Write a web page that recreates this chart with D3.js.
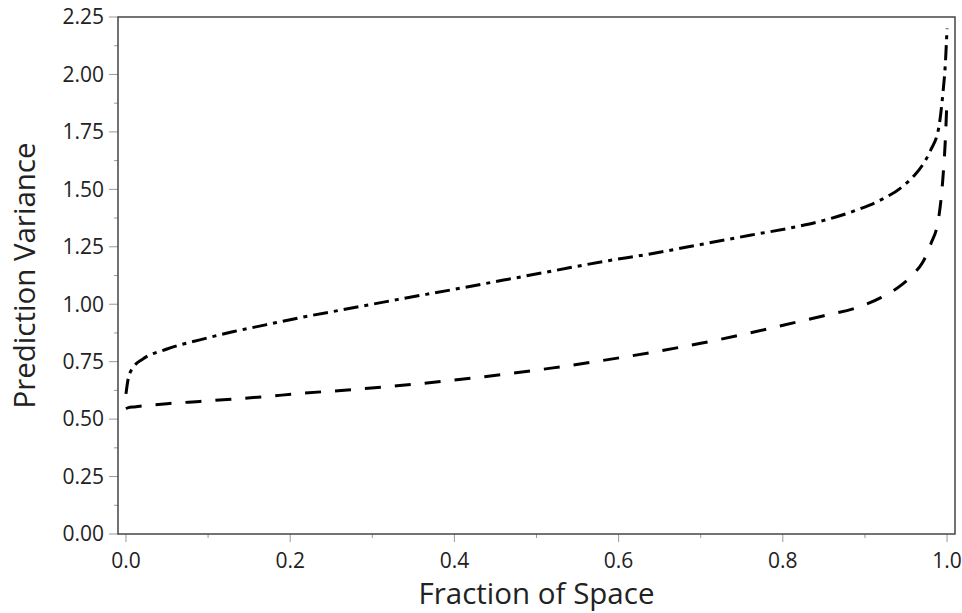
<!DOCTYPE html>
<html>
<head>
<meta charset="UTF-8">
<title>Prediction Variance</title>
<script src="https://d3js.org/d3.v7.min.js"></script>
<style>
  body { margin: 0; background: #fff; }
  svg { display: block; }
  .tick-label { font-family: "Open Sans", "Noto Sans", sans-serif; font-size: 21px; fill: #222; }
  .axis-title { font-family: "Open Sans", "Noto Sans", sans-serif; font-size: 29.5px; fill: #222; }
</style>
</head>
<body>
<svg width="962" height="613"></svg>
<script>
// fraction of design space (shared x values)
var fraction = [0, 0.003, 0.01, 0.02, 0.05, 0.09, 0.13, 0.17, 0.21, 0.27, 0.33, 0.40, 0.46, 0.52, 0.58,
                0.64, 0.70, 0.76, 0.82, 0.85, 0.89, 0.92, 0.945, 0.96, 0.97, 0.98, 0.99, 0.995, 0.998, 1.0];
// dash-dot curve
var varDashDot = [0.61, 0.68, 0.73, 0.76, 0.805, 0.845, 0.88, 0.91, 0.94, 0.98, 1.02, 1.065, 1.105, 1.145, 1.185,
                  1.22, 1.26, 1.30, 1.34, 1.365, 1.41, 1.455, 1.51, 1.56, 1.605, 1.67, 1.77, 1.92, 2.05, 2.2];
// dashed curve
var varDashed = [0.545, 0.55, 0.553, 0.557, 0.567, 0.577, 0.587, 0.598, 0.611, 0.627, 0.645, 0.67, 0.695, 0.723, 0.755,
                 0.79, 0.83, 0.875, 0.925, 0.95, 0.985, 1.03, 1.085, 1.135, 1.18, 1.26, 1.38, 1.55, 1.72, 1.9];
var xTicks = [0, 0.2, 0.4, 0.6, 0.8, 1.0];
var yTicks = [0, 0.25, 0.5, 0.75, 1.0, 1.25, 1.5, 1.75, 2.0, 2.25];

var svg = d3.select("svg");
var pLeft = 118, pRight = 955, pTop = 17, pBottom = 534;

var x = d3.scaleLinear().domain([-0.0097, 1.0097]).range([pLeft, pRight]);
var y = d3.scaleLinear().domain([0, 2.25]).range([pBottom, pTop]);

// minor + major ticks, y
var yMinor = d3.range(0.125, 2.25, 0.25);
svg.append("g").selectAll("line").data(yMinor).enter().append("line")
    .attr("x1", pLeft - 4).attr("x2", pLeft)
    .attr("y1", d => y(d)).attr("y2", d => y(d))
    .attr("stroke", "#999").attr("stroke-width", 1);
svg.append("g").selectAll("line").data(yTicks).enter().append("line")
    .attr("x1", pLeft - 9).attr("x2", pLeft)
    .attr("y1", d => y(d)).attr("y2", d => y(d))
    .attr("stroke", "#999").attr("stroke-width", 1);
svg.append("g").selectAll("text").data(yTicks).enter().append("text")
    .attr("class", "tick-label")
    .attr("x", pLeft - 14).attr("y", d => y(d))
    .attr("dy", "0.35em")
    .attr("text-anchor", "end")
    .text(d => d3.format(".2f")(d));

// x ticks
var xMinor = d3.range(0.1, 1.0, 0.2);
svg.append("g").selectAll("line").data(xMinor).enter().append("line")
    .attr("x1", d => x(d)).attr("x2", d => x(d))
    .attr("y1", pBottom).attr("y2", pBottom + 4)
    .attr("stroke", "#999").attr("stroke-width", 1);
svg.append("g").selectAll("line").data(xTicks).enter().append("line")
    .attr("x1", d => x(d)).attr("x2", d => x(d))
    .attr("y1", pBottom).attr("y2", pBottom + 8)
    .attr("stroke", "#999").attr("stroke-width", 1);
svg.append("g").selectAll("text").data(xTicks).enter().append("text")
    .attr("class", "tick-label")
    .attr("x", d => x(d)).attr("y", 568)
    .attr("text-anchor", "middle")
    .text(d => d3.format(".1f")(d));

// frame
svg.append("rect")
    .attr("x", pLeft).attr("y", pTop)
    .attr("width", pRight - pLeft).attr("height", pBottom - pTop)
    .attr("fill", "none").attr("stroke", "#444").attr("stroke-width", 1.5);

var line = d3.line()
    .x(d => x(d[0]))
    .y(d => y(d[1]))
    .curve(d3.curveMonotoneX);

svg.append("path")
    .datum(d3.zip(fraction, varDashed))
    .attr("d", line)
    .attr("fill", "none").attr("stroke", "#000").attr("stroke-width", 3)
    .attr("stroke-dasharray", "16,14");

svg.append("path")
    .datum(d3.zip(fraction, varDashDot))
    .attr("d", line)
    .attr("fill", "none").attr("stroke", "#000").attr("stroke-width", 3)
    .attr("stroke-dasharray", "15,6,4,6");

// axis titles
svg.append("text")
    .attr("class", "axis-title")
    .attr("x", (pLeft + pRight) / 2).attr("y", 604)
    .attr("text-anchor", "middle")
    .text("Fraction of Space");

svg.append("text")
    .attr("class", "axis-title")
    .attr("transform", "translate(35," + ((pTop + pBottom) / 2) + ") rotate(-90)")
    .attr("text-anchor", "middle")
    .text("Prediction Variance");
</script>
</body>
</html>
